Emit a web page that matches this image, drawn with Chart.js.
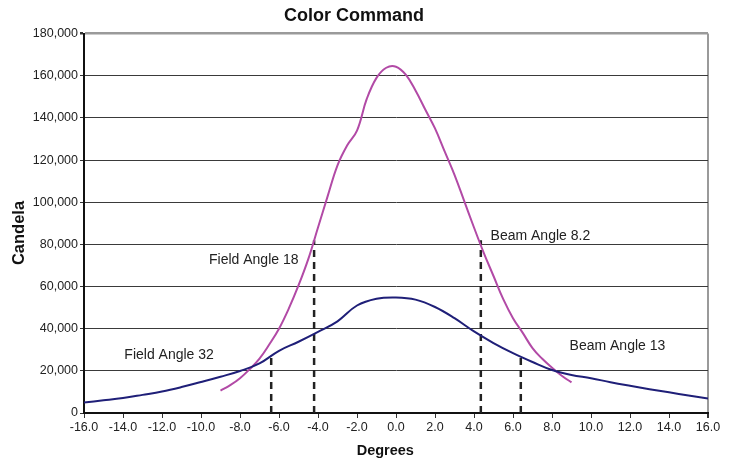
<!DOCTYPE html>
<html>
<head>
<meta charset="utf-8">
<script src="https://cdn.jsdelivr.net/npm/chart.js@4/dist/chart.umd.min.js"></script>
<style>
html,body{margin:0;padding:0;background:#fff;}
#wrap{width:736px;height:461px;position:relative;}
</style>
</head>
<body>
<div id="wrap"><canvas id="c"></canvas></div>
<script>
// Data
const blueDeg = [-16,-15,-14,-13,-12,-11,-10,-9,-8,-7,-6,-5,-4,-3,-2,-1,0,1,2,3,4,5,6,7,8,9,10,11,12,13,14,15,16];
const blueCd  = [5000,6000,7100,8600,10200,12300,14700,17200,19900,23500,29500,33800,38500,43500,51000,54200,54800,53800,50300,45000,38700,33200,28400,24200,20400,18000,16500,14600,12900,11300,9800,8300,6900];

const magDeg = [-9,-8.5,-8,-7.5,-7,-6.5,-6,-5.5,-5,-4.5,-4,-3.5,-3,-2.5,-2,-1.5,-1,-0.5,0,0.5,1,1.5,2,2.5,3,3.5,4,4.5,5,5.5,6,6.5,7,7.5,8,8.5,9];
const magCd  = [10600,13200,16500,20800,25800,32500,40000,49500,60500,73000,88000,103000,117500,127000,134000,149000,159000,163800,164300,160500,153000,144000,135000,124000,113000,100500,88000,76000,65000,54000,45000,38000,30800,25700,21500,17700,14500];

// Reference lines (angle markers): [degree, top candela]
const markerDeg = [-6.4, -4.2, 4.35, 6.4];
const markerTop = [26800, 82000, 82000, 26800];

const xTickValues = [-16,-14,-12,-10,-8,-6,-4,-2,0,2,4,6,8,10,12,14,16];
const yTickValues = [0,20000,40000,60000,80000,100000,120000,140000,160000,180000];

const labelTexts = ["Field Angle 18","Beam Angle 8.2","Field Angle 32","Beam Angle 13"];
const labelDeg   = [-5.0, 4.85, -13.93, 8.9];
const labelCd    = [72600, 83700, 27600, 31600];
const labelAlign = ["right","left","left","left"];

const pts = (xs, ys) => xs.map((x,i)=>({x:x,y:ys[i]}));

const datasets = [
  {label:'blue', data:pts(blueDeg, blueCd), borderColor:'#1f1f78', borderWidth:2, pointRadius:0, tension:0.4, fill:false},
  {label:'magenta', data:pts(magDeg, magCd), borderColor:'#b24aa6', borderWidth:2, pointRadius:0, tension:0.4, fill:false}
];
markerDeg.forEach((d,i)=>{
  datasets.push({label:'m'+i, data:[{x:d,y:0},{x:d,y:markerTop[i]}], borderColor:'#222', borderWidth:2.5, borderDash:[7,5], pointRadius:0, tension:0, fill:false});
});

const FONT = '"Liberation Sans", Arial, sans-serif';
const textPlugin = {
  id:'texts',
  afterDatasetsDraw(chart){
    const ctx = chart.ctx, xs = chart.scales.x, ys = chart.scales.y;
    ctx.save();
    ctx.fillStyle = '#222';
    ctx.font = '14px ' + FONT;
    ctx.textBaseline = 'middle';
    labelTexts.forEach((t,i)=>{
      ctx.textAlign = labelAlign[i];
      ctx.fillText(t, xs.getPixelForValue(labelDeg[i]), ys.getPixelForValue(labelCd[i]));
    });
    // axis titles
    ctx.font = 'bold 14.5px ' + FONT;
    ctx.textAlign = 'center';
    ctx.fillStyle = '#111';
    ctx.fillText('Degrees', xs.getPixelForValue(-0.55), 451);
    ctx.translate(19, 233);
    ctx.rotate(-Math.PI/2);
    ctx.font = 'bold 16.5px ' + FONT;
    ctx.fillText('Candela', 0, 0);
    ctx.restore();
  }
};

new Chart(document.getElementById('c'), {
  type:'line',
  data:{datasets:datasets},
  options:{
    responsive:true, maintainAspectRatio:false, animation:false,
    layout:{padding:{left:0,right:28,top:0,bottom:0}},
    plugins:{
      legend:{display:false}, tooltip:{enabled:false},
      title:{display:true, text:'Color Command', color:'#111',
        font:{family:FONT, size:18, weight:'bold'},
        padding:{top:5,bottom:7}}
    },
    scales:{
      x:{type:'linear', min:-16, max:16,
        afterBuildTicks(s){ s.ticks = xTickValues.map(v=>({value:v})); },
        afterFit(s){ s.height = 48; },
        ticks:{color:'#222', font:{family:FONT, size:12.5}, padding:2, maxRotation:0,
          callback:v=>Number(v).toFixed(1)},
        grid:{drawOnChartArea:true, color:c=> (c.tick && c.tick.value===16) ? '#9a9a9a':'rgba(0,0,0,0)', lineWidth:c=>(c.tick && c.tick.value===16)?2:1, tickColor:'#333', tickLength:5},
        border:{color:'#111', width:2}
      },
      y:{type:'linear', min:0, max:180000,
        afterBuildTicks(s){ s.ticks = yTickValues.map(v=>({value:v})); },
        afterFit(s){ s.width = 84; },
        ticks:{color:'#222', font:{family:FONT, size:12.5}, padding:2,
          callback:v=>Number(v).toLocaleString('en-US')},
        grid:{color:c=> (c.tick && c.tick.value===180000) ? '#9a9a9a':'#3a3a3a', lineWidth:c=>(c.tick && c.tick.value===180000)?2.5:1, tickColor:'#333', tickLength:4},
        border:{color:'#111', width:2},
        title:{display:false}
      }
    }
  },
  plugins:[textPlugin]
});
</script>
</body>
</html>
